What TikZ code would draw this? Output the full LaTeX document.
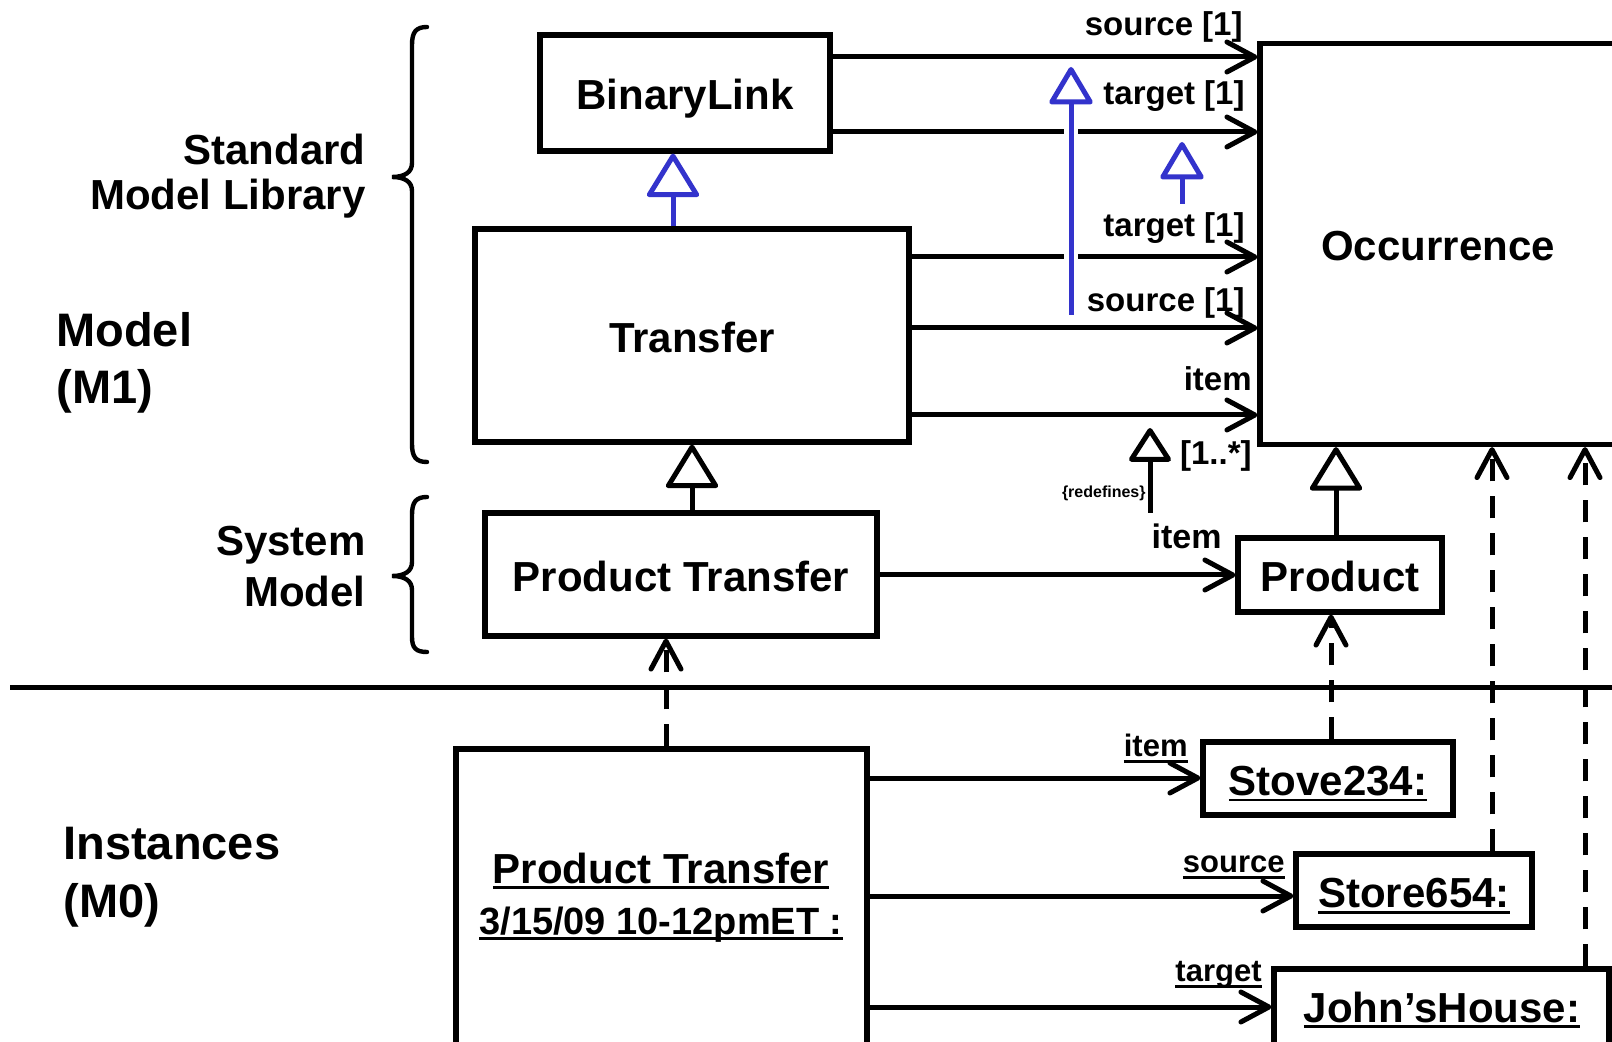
\documentclass[tikz,border=0pt]{standalone}
\usepackage{fontspec}
\setmainfont{Liberation Sans}
\usetikzlibrary{arrows.meta}
\definecolor{umlblue}{RGB}{51,51,204}
\newsavebox\myulbox
\newcommand\myul[3]{\sbox\myulbox{#3}\rlap{\rule[-#1]{\wd\myulbox}{#2}}\usebox\myulbox}
\begin{document}
\begin{tikzpicture}[x=0.5pt,y=-0.5pt,
  cls/.style={draw, line width=2.6pt, inner sep=0pt, font=\fontsize{21}{25}\selectfont\bfseries, text height=17pt, text depth=0pt},
  boxonly/.style={draw, line width=2.6pt, inner sep=0pt},
  lbl/.style={inner sep=0pt, font=\fontsize{16.5}{20}\selectfont\bfseries},
  rolelbl/.style={inner sep=0pt, font=\fontsize{15.5}{19}\selectfont\bfseries},
  bigtxt/.style={inner sep=0pt, font=\fontsize{21}{25}\selectfont\bfseries},
  lvltxt/.style={inner sep=0pt, font=\fontsize{23.5}{28}\selectfont\bfseries},
  assoc/.style={line width=2.5pt, -{Straight Barb[length=14pt,width=15pt,round]}},
  dep/.style={line width=2.5pt, dash pattern=on 11pt off 7.5pt, -{Straight Barb[length=14pt,width=15pt,round]}},
  gen/.style={line width=2.5pt, -{Triangle[length=23pt,width=27.5pt,fill=white,round]}},
  gensmall/.style={line width=2.5pt, -{Triangle[length=20pt,width=23pt,fill=white,round]}},
  genred/.style={line width=2.5pt, -{Triangle[length=18pt,width=22.5pt,fill=white,round]}},
  bracepath/.style={line width=2.2pt, line cap=round}
]
\useasboundingbox (0,0) rectangle (1612,1042);
\fill[white] (0,0) rectangle (1612,1042);
\clip (0,0) rectangle (1612,1042);

% class boxes
\node[cls, minimum width=145pt, minimum height=58pt] (BL) at (685,93) {BinaryLink};
\node[cls, minimum width=217pt, minimum height=106.5pt] (Tr) at (692,335.5) {Transfer};
\node[cls, minimum width=178pt, minimum height=200.5pt] (Occ) at (1438,244) {Occurrence};
\node[cls, minimum width=196pt, minimum height=61.5pt] (PT) at (681,574.5) {Product Transfer};
\node[cls, minimum width=102pt, minimum height=37pt] (Prod) at (1340,575) {Product};

% instance boxes
\node[boxonly, minimum width=205.5pt, minimum height=175.5pt] (ipt) at (661.5,924.5) {};
\node[bigtxt, anchor=base] (ipt1) at (661,883) {\myul{3pt}{1.4pt}{Product Transfer}};
\node[inner sep=0pt, font=\fontsize{19}{23}\selectfont\bfseries, anchor=base] (ipt2) at (661,934) {\myul{3pt}{1.4pt}{3/15/09 10-12pmET :}};
\node[cls, minimum width=125pt, minimum height=36.5pt] (Stove) at (1328,778.5) {\myul{3pt}{1.4pt}{Stove234:}};
\node[cls, minimum width=118pt, minimum height=36.5pt] (Store) at (1414,890.5) {\myul{3pt}{1.4pt}{Store654:}};
\node[boxonly, minimum width=167.5pt, minimum height=65.5pt] (John) at (1441.5,1034.5) {};
\node[bigtxt, anchor=base] (Johnt) at (1442,1022) {\myul{3pt}{1.4pt}{John’sHouse:}};

% associations
\draw[assoc] (BL.east |- 0,57) -- (Occ.west |- 0,57);
\draw[assoc] (BL.east |- 0,132) -- (Occ.west |- 0,132);
\draw[assoc] (Tr.east |- 0,257) -- (Occ.west |- 0,257);
\draw[assoc] (Tr.east |- 0,328) -- (Occ.west |- 0,328);
\draw[assoc] (Tr.east |- 0,415) -- (Occ.west |- 0,415);
\draw[assoc] (PT.east |- 0,575) -- (Prod.west |- 0,575);
\draw[assoc] (ipt.east |- 0,778) -- (Stove.west |- 0,778);
\draw[assoc] (ipt.east |- 0,896) -- (Store.west |- 0,896);
\draw[assoc] (ipt.east |- 0,1007) -- (John.west |- 0,1007);

% association labels
\node[lbl, anchor=base east] (l1) at (1243,36) {source [1]};
\node[lbl, anchor=base east] (l2) at (1245,105) {target [1]};
\node[lbl, anchor=base east] (l3) at (1245,237) {target [1]};
\node[lbl, anchor=base east] (l4) at (1245,312) {source [1]};
\node[lbl, anchor=base east] (l5) at (1252,391) {item};
\node[lbl, anchor=base east] (l6) at (1252,465) {[1..*]};
\node[inner sep=0pt, font=\fontsize{8}{9}\selectfont\bfseries, anchor=base east] (l7) at (1146,498) {\{redefines\}};
\node[inner sep=0pt, font=\fontsize{17}{20}\selectfont\bfseries, anchor=base east] (l8) at (1222,549) {item};
\node[rolelbl, anchor=base east] (r1) at (1188,756) {\myul{3.5pt}{1.4pt}{item}};
\node[rolelbl, anchor=base east] (r2) at (1285,872) {\myul{3.5pt}{1.4pt}{source}};
\node[rolelbl, anchor=base east] (r3) at (1262,981) {\myul{3.5pt}{1.4pt}{target}};

% generalizations
\draw[gen, umlblue] (Tr.north -| 673,0) -- (BL.south -| 673,0);
\draw[gen] (PT.north -| 692,0) -- (Tr.south -| 692,0);
\draw[gen] (Prod.north -| 1336,0) -- (Occ.south -| 1336,0);
\coordinate (lb0) at (1071,315);
\coordinate (lb1) at (1071,67);
\draw[white, line width=7pt] (lb0) -- (1071,100);
\draw[gensmall, umlblue] (lb0) -- (lb1);
\coordinate (sb0) at (1182,204);
\coordinate (sb1) at (1182,142);
\draw[gensmall, umlblue] (sb0) -- (sb1);
\coordinate (rd0) at (1150,513);
\coordinate (rd1) at (1150,428);
\draw[genred] (rd0) -- (rd1);

% dependencies
\draw[dep] (ipt.north -| 666,0) -- (PT.south -| 666,0);
\draw[dep] (Stove.north -| 1331,0) -- (Prod.south -| 1331,0);
\draw[dep] (Store.north -| 1492,0) -- (Occ.south -| 1492,0);
\draw[dep] (John.north -| 1585,0) -- (Occ.south -| 1585,0);

% separator
\draw[line width=2.5pt] (10,688) -- (1612,688);

% braces
\draw[bracepath] (427,27) .. controls (416,27) and (412,32) .. (412,45) -- (412,163)
  .. controls (412,172) and (405,177) .. (392,177)
  .. controls (405,177) and (412,182) .. (412,191) -- (412,444)
  .. controls (412,457) and (416,462) .. (427,462);
\draw[bracepath] (427,497) .. controls (416,497) and (412,502) .. (412,515) -- (412,562)
  .. controls (412,571) and (405,576) .. (392,576)
  .. controls (405,576) and (412,581) .. (412,590) -- (412,637)
  .. controls (412,648) and (416,652) .. (427,652);

% level labels
\node[bigtxt, anchor=base east] (sml1) at (366,165) {Standard};
\node[bigtxt, anchor=base east] (sml2) at (366,210) {Model Library};
\node[bigtxt, anchor=base east] (sm1) at (366,556) {System};
\node[bigtxt, anchor=base east] (sm2) at (366,607) {Model};
\node[lvltxt, anchor=base west] (m1a) at (56,347) {Model};
\node[lvltxt, anchor=base west] (m1b) at (56,404) {(M1)};
\node[lvltxt, anchor=base west] (m0a) at (63,859) {Instances};
\node[lvltxt, anchor=base west] (m0b) at (63,917) {(M0)};
\end{tikzpicture}
\end{document}
